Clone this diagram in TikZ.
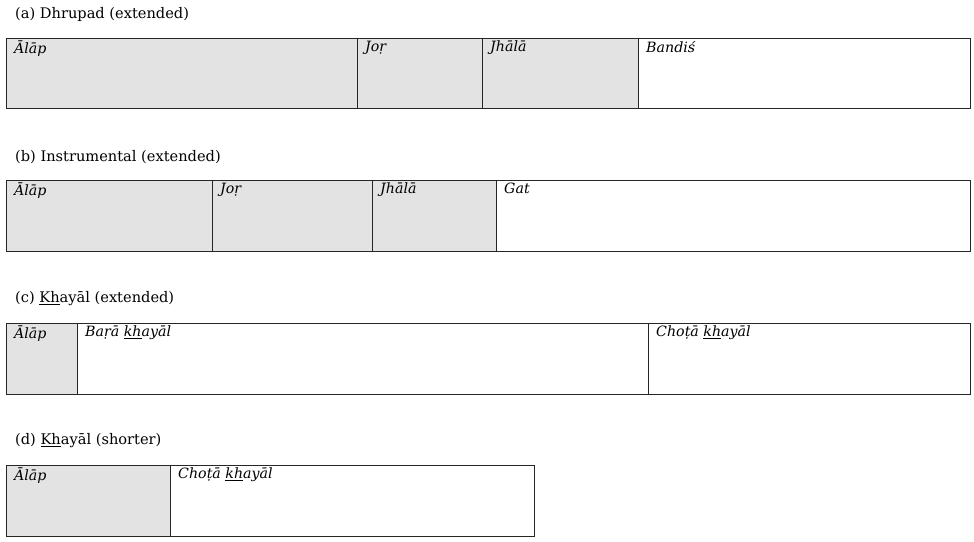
\documentclass[tikz,border=0pt]{standalone}
\usepackage{fontspec}
\setmainfont{DejaVu Serif}
\begin{document}
\begin{tikzpicture}[x=1pt,y=-1pt,
  seg/.style={draw=black!85,line width=1pt},
  g/.style={seg,fill=black!11},
  w/.style={seg,fill=white},
  lab/.style={anchor=north west,inner sep=0pt,font=\fontsize{14.2}{16}\selectfont\itshape},
  ttl/.style={anchor=west,inner sep=0pt,font=\fontsize{14.6}{17}\selectfont}]
\useasboundingbox (0,0) rectangle (974,541);
\newcommand{\ul}[1]{\underline{#1}}
% (a)
\node[ttl] (ta) at (15,14) {(a) Dhrupad (extended)};
\draw[g] (6,38) rectangle (357,108); \draw[g] (357,38) rectangle (482,108);
\draw[g] (482,38) rectangle (638,108); \draw[w] (638,38) rectangle (970,108);
\node[lab] (a1) at (14,41) {Ālāp};
\node[lab] (a2) at (365,41) {Joṛ};
\node[lab] (a3) at (490,41) {Jhālā};
\node[lab] (a4) at (646,41) {Bandiś};
% (b)
\node[ttl] (tb) at (15,157) {(b) Instrumental (extended)};
\draw[g] (6,180) rectangle (212,251); \draw[g] (212,180) rectangle (372,251);
\draw[g] (372,180) rectangle (496,251); \draw[w] (496,180) rectangle (970,251);
\node[lab] (b1) at (14,183) {Ālāp};
\node[lab] (b2) at (220,183) {Joṛ};
\node[lab] (b3) at (380,183) {Jhālā};
\node[lab] (b4) at (504,183) {Gat};
% (c)
\node[ttl] (tc) at (15,299) {(c) \ul{Kh}ayāl (extended)};
\draw[g] (6,323) rectangle (77,394); \draw[w] (77,323) rectangle (648,394);
\draw[w] (648,323) rectangle (970,394);
\node[lab] (c1) at (14,326) {Ālāp};
\node[lab] (c2) at (85,326) {Baṛā \ul{kh}ayāl};
\node[lab] (c3) at (656,326) {Choṭā \ul{kh}ayāl};
% (d)
\node[ttl] (td) at (15,441) {(d) \ul{Kh}ayāl (shorter)};
\draw[g] (6,465) rectangle (170,536); \draw[w] (170,465) rectangle (534,536);
\node[lab] (d1) at (14,468) {Ālāp};
\node[lab] (d2) at (178,468) {Choṭā \ul{kh}ayāl};
\end{tikzpicture}
\end{document}
